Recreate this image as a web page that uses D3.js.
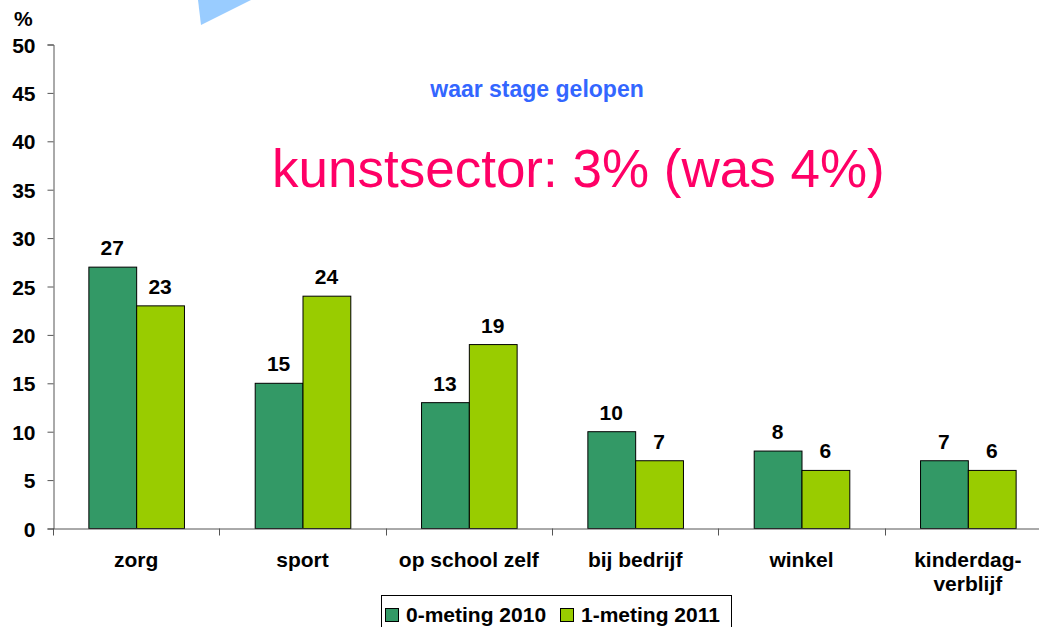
<!DOCTYPE html>
<html>
<head>
    <meta charset="utf-8" />
    <title>waar stage gelopen</title>
    <style>
        body {
            margin: 0;
            background: #fff;
        }

        svg text {
            font-family: "Liberation Sans", Arial, sans-serif;
        }

        .lbl {
            font-weight: bold;
            font-size: 21px;
            fill: #000;
        }
    </style>
</head>
<body>
    <div id="chart"></div>
    <script src="https://d3js.org/d3.v7.min.js"></script>
    <script>
        !(function() {
            "use strict"
            var width = 1039,
                height = 627

            // data
            var categories = ["zorg", "sport", "op school zelf", "bij bedrijf", "winkel", "kinderdag-\nverblijf"]
            var series = ["0-meting 2010", "1-meting 2011"]
            var meting2010 = [27, 15, 13, 10, 8, 7]
            var meting2011 = [23, 24, 19, 7, 6, 6]
            var yTicks = [0, 5, 10, 15, 20, 25, 30, 35, 40, 45, 50]
            var colors = ["#339966", "#99cc00"]

            var svg = d3.select("#chart").append("svg")
                .attr("width", width)
                .attr("height", height)

            var x0 = d3.scaleBand()
                .domain(categories)
                .range([53, 1051])
                .padding(0)

            var x1 = d3.scaleBand()
                .domain(series)
                .range([0, x0.bandwidth()])
                .paddingInner(0)
                .paddingOuter(0.74)

            var y = d3.scaleLinear()
                .domain([0, 50])
                .range([528.5, 44.5])

            // light blue corner shape at top
            svg.append("polygon")
                .attr("points", "198,0 201,25 251,0")
                .attr("fill", "#99ccff")

            // bars
            var values = [meting2010, meting2011]
            var group = svg.append("g").selectAll("g")
                .data(categories)
                .enter().append("g")
                .attr("transform", function(d) {
                    return "translate(" + x0(d) + ",0)"
                })

            group.selectAll("rect")
                .data(function(d, i) {
                    return series.map(function(s, j) {
                        return { s: s, v: values[j][i], j: j }
                    })
                })
                .enter().append("rect")
                .attr("x", function(d) { return x1(d.s) + 0.5 })
                .attr("y", function(d) { return y(d.v) })
                .attr("width", x1.bandwidth())
                .attr("height", function(d) { return y(0) - y(d.v) })
                .attr("fill", function(d) { return colors[d.j] })
                .attr("stroke", "#000")
                .attr("stroke-width", 1)

            group.selectAll("text")
                .data(function(d, i) {
                    return series.map(function(s, j) {
                        return { s: s, v: values[j][i] }
                    })
                })
                .enter().append("text")
                .attr("class", "lbl")
                .attr("text-anchor", "middle")
                .attr("x", function(d) { return x1(d.s) + x1.bandwidth() / 2 })
                .attr("y", function(d) { return y(d.v) - 12 })
                .text(function(d) { return d.v })

            // y axis
            var yAxis = svg.append("g")
                .attr("transform", "translate(53.5,0)")
                .call(d3.axisLeft(y).tickValues(yTicks).tickSize(6).tickPadding(12))
            yAxis.select(".domain").attr("stroke", "#555")
            yAxis.selectAll(".tick line").attr("stroke", "#555")
            yAxis.selectAll(".tick text")
                .attr("class", "lbl")
                .attr("font-family", null)
                .attr("font-size", null)
                .attr("dy", "0.36em")

            svg.append("text")
                .attr("class", "lbl")
                .attr("x", 14)
                .attr("y", 26)
                .text("%")

            // x axis
            var xAxis = svg.append("g").attr("class", "xaxis")
            xAxis.append("line")
                .attr("x1", 53).attr("x2", width)
                .attr("y1", y(0) + 0.5).attr("y2", y(0) + 0.5)
                .attr("stroke", "#555")
            xAxis.selectAll("line.tk")
                .data(categories)
                .enter().append("line")
                .attr("class", "tk")
                .attr("x1", function(d) { return Math.round(x0(d)) + 0.5 })
                .attr("x2", function(d) { return Math.round(x0(d)) + 0.5 })
                .attr("y1", y(0))
                .attr("y2", y(0) + 7)
                .attr("stroke", "#555")

            var catText = xAxis.selectAll("text")
                .data(categories)
                .enter().append("text")
                .attr("class", "lbl")
                .attr("text-anchor", "middle")
                .attr("x", function(d) { return x0(d) + x0.bandwidth() / 2 })
                .attr("y", 567)
            catText.selectAll("tspan")
                .data(function(d) { return d.split("\n") })
                .enter().append("tspan")
                .attr("x", function() {
                    return d3.select(this.parentNode).attr("x")
                })
                .attr("dy", function(d, i) { return i ? 24 : 0 })
                .text(function(d) { return d })

            // titles
            svg.append("text")
                .attr("x", 537)
                .attr("y", 97)
                .attr("text-anchor", "middle")
                .attr("font-weight", "bold")
                .attr("font-size", 23)
                .attr("fill", "#3366ff")
                .text("waar stage gelopen")

            svg.append("text")
                .attr("x", 272)
                .attr("y", 187)
                .attr("font-size", 53)
                .attr("fill", "#ff0066")
                .text("kunstsector: 3% (was 4%)")

            // legend
            var legend = svg.append("g")
            legend.append("rect")
                .attr("x", 381.5).attr("y", 595.5)
                .attr("width", 350).attr("height", 40)
                .attr("fill", "#fff")
                .attr("stroke", "#000")
            var legX = [385, 560]
            var item = legend.selectAll("g.item")
                .data(series)
                .enter().append("g")
                .attr("class", "item")
                .attr("transform", function(d, i) {
                    return "translate(" + legX[i] + ",608)"
                })
            item.append("rect")
                .attr("x", 0.5).attr("y", 0.5)
                .attr("width", 13).attr("height", 13)
                .attr("fill", function(d, i) { return colors[i] })
                .attr("stroke", "#000")
            item.append("text")
                .attr("class", "lbl")
                .attr("x", 21)
                .attr("y", 14)
                .text(function(d) { return d })
        }());
    </script>
</body>
</html>
